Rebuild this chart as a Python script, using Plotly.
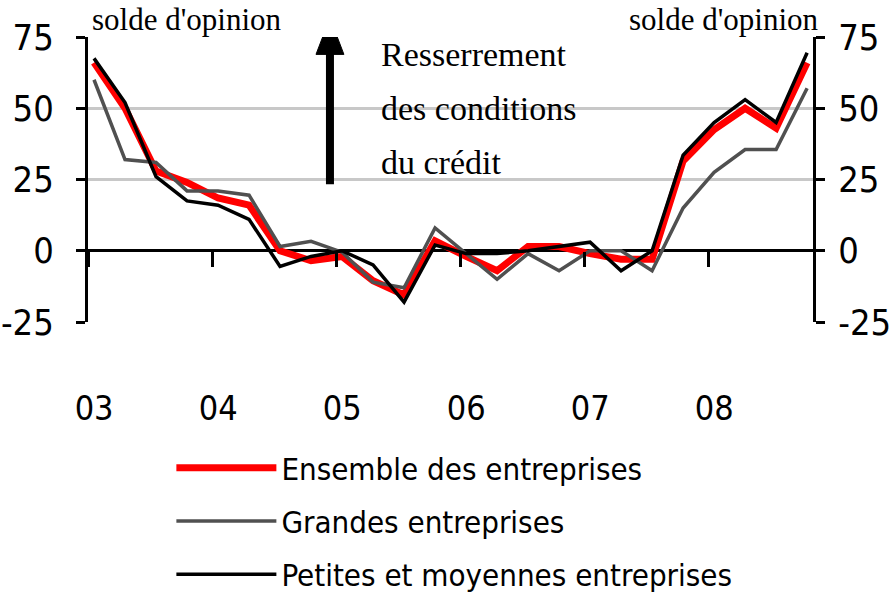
import plotly.graph_objects as go

# Quarterly data, 2003Q1 .. 2008Q4 (index 0..23)
quarters = list(range(24))
ensemble = [66, 50, 28, 24, 18.5, 16, 0, -3.5, -2, -10.5, -15.5, 3.5,
            -2, -7, 1.5, 1.5, -1, -3, -3, 31.5, 42.5, 50, 43, 66]
grandes = [60, 32, 31, 21, 21, 19.5, 1.5, 3.3, -0.5, -11, -13, 8,
           -1, -10, -1, -7, 0, 0, -7, 15, 27.5, 35.5, 35.5, 57]
pme = [67.5, 52, 26, 17.5, 16, 11, -5.5, -2, 0, -5, -18, 2,
       -1, -1, 0, 1.5, 3, -7, 0, 33.5, 45, 53, 45, 69.5]

year_ticks = [-0.19, 3.81, 7.81, 11.81, 15.81, 19.81]
year_labels = ["03", "04", "05", "06", "07", "08"]
y_ticks = [-25, 0, 25, 50, 75]
y_labels = ["-25", "0", "25", "50", "75"]

NARROW = "Liberation Sans Narrow, DejaVu Sans Condensed, Arial Narrow, sans-serif"
SERIF = "Liberation Serif, Times New Roman, serif"

fig = go.Figure()
fig.add_trace(go.Scatter(x=quarters, y=ensemble, mode="lines", name="Ensemble des entreprises",
                         line=dict(color="#ff0000", width=7), legendgroup="a"))
fig.add_trace(go.Scatter(x=quarters, y=grandes, mode="lines", name="Grandes entreprises",
                         line=dict(color="#505050", width=3.5), legendgroup="b"))
fig.add_trace(go.Scatter(x=quarters, y=pme, mode="lines", name="Petites et moyennes entreprises",
                         line=dict(color="#000000", width=3.5), legendgroup="c", yaxis="y2"))

fig.update_layout(
    template="none",
    width=892, height=603,
    margin=dict(l=88, r=79, t=37, b=281, autoexpand=False),
    plot_bgcolor="white", paper_bgcolor="white",
    xaxis=dict(range=[-0.194, 23.19], anchor="free", position=0.25, automargin=False,
               showline=False, showgrid=False, zeroline=False,
               tickmode="array", tickvals=year_ticks, ticktext=year_labels,
               ticks="outside", ticklen=15, tickwidth=3, tickcolor="black",
               ticklabelstandoff=112, ticklabelshift=6,
               tickfont=dict(family=NARROW, size=34, color="black")),
    yaxis=dict(range=[-25, 75], tickmode="array", tickvals=y_ticks, ticktext=y_labels,
               automargin=False,
               showgrid=True, gridcolor="#c8c8c8", gridwidth=3,
               zeroline=True, zerolinecolor="black", zerolinewidth=3,
               showline=True, linecolor="black", linewidth=3,
               ticks="outside", ticklen=9, tickwidth=3, tickcolor="black",
               ticklabelstandoff=15,
               tickfont=dict(family=NARROW, size=36, color="black")),
    yaxis2=dict(range=[-25, 75], overlaying="y", side="right", anchor="x",
                tickmode="array", tickvals=y_ticks, ticktext=y_labels,
                automargin=False,
                showgrid=False, zeroline=False,
                showline=True, linecolor="black", linewidth=3,
                ticks="outside", ticklen=9, tickwidth=3, tickcolor="black",
                ticklabelstandoff=6,
                tickfont=dict(family=NARROW, size=36, color="black")),
    showlegend=True,
    legend=dict(x=0.115, y=(322 - 601) / 285, xanchor="left", yanchor="bottom",
                orientation="v", itemwidth=100, tracegroupgap=10,
                font=dict(family=NARROW, size=31, color="black"),
                bgcolor="rgba(0,0,0,0)"),
)

# Arrow "Resserrement des conditions du crédit"
fig.add_shape(type="line", xref="x", yref="y", x0=7.61, x1=7.61, y0=23.3, y1=70,
              line=dict(color="black", width=8))
fig.add_shape(type="path", xref="x", yref="y",
              path="M 7.16 68.9 L 8.06 68.9 L 7.61 81.7 Z",
              fillcolor="black", line=dict(color="black", width=1))

for txt, py in [("Resserrement", 55), ("des conditions", 108), ("du crédit", 162)]:
    fig.add_annotation(text=txt, xref="paper", yref="paper",
                       x=(379 - 88) / 725, y=(322 - py) / 285,
                       xanchor="left", yanchor="middle", showarrow=False,
                       font=dict(family=SERIF, size=34, color="black"))

fig.add_annotation(text="solde d'opinion", xref="paper", yref="paper",
                   x=(90 - 88) / 725, y=(322 - 19) / 285, xanchor="left", yanchor="middle",
                   showarrow=False, font=dict(family=SERIF, size=31, color="black"))
fig.add_annotation(text="solde d'opinion", xref="paper", yref="paper",
                   x=(820 - 88) / 725, y=(322 - 19) / 285, xanchor="right", yanchor="middle",
                   showarrow=False, font=dict(family=SERIF, size=31, color="black"))

fig.write_html("out.html", config={"displayModeBar": False},
               post_script="document.body.style.margin='0';")
